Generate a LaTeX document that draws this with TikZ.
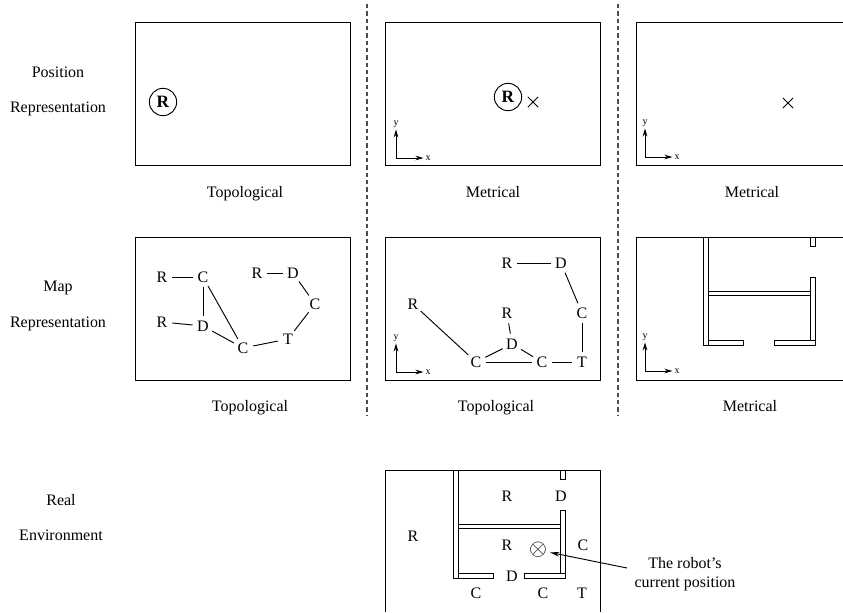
\documentclass[tikz,border=0pt]{standalone}
\usepackage{fontspec}
\setmainfont{Liberation Serif}
\usetikzlibrary{arrows.meta, shapes.misc}

\begin{document}
\begin{tikzpicture}[
  x=0.75pt, y=-0.75pt, line width=0.7pt,
  panel/.style={draw=black},
  sep/.style={dash pattern=on 3.3pt off 2.2pt, line width=0.8pt, black!70},
  txt/.style={font=\fontsize{12}{14.25}\selectfont, inner sep=0pt},
  place/.style={txt, circle, inner sep=1.6pt, minimum size=17pt},
  link/.style={shorten >=-1pt, shorten <=-1pt},
  robot/.style={draw, circle, minimum size=20.5pt, inner sep=0pt, font=\fontsize{13}{14}\selectfont\bfseries},
  goal/.style={draw, cross out, minimum size=7pt, inner sep=0pt},
  axlabel/.style={font=\fontsize{7.5}{8}\selectfont, inner sep=1.2pt},
  axarrow/.style={-{Stealth[length=6pt, width=3.5pt]}, line width=0.6pt},
  wall/.style={draw=black, line width=0.7pt},
  axes/.pic={
    \coordinate (-o) at (0,0);
    \node[axlabel] (-x) at (32,0) {x};
    \node[axlabel] (-y) at (0,-34) {y};
    \draw[axarrow] (-o) -- (-x);
    \draw[axarrow] (-o) -- (-y);
  },
  walls/.pic={
    \draw[wall] (0,0) rectangle (5,108);
    \draw[wall] (5,103) rectangle (40,108);
    \draw[wall] (71,103) rectangle (112,108);
    \draw[wall] (107,40) rectangle (112,103);
    \draw[wall] (107,0) rectangle (112,9);
    \draw[wall] (5,54) rectangle (107,58);
  }
]
  \useasboundingbox (0,0) rectangle (843,612);

  % row labels
  \node[txt] (posa) at (58,72) {Position};
  \node[txt] (posb) at (58,109) {Representation};
  \node[txt] (mapa) at (58,288) {Map};
  \node[txt] (mapb) at (58,324) {Representation};
  \node[txt] (reala) at (61,500) {Real};
  \node[txt] (realb) at (61,535) {Environment};

  % separators
  \draw[sep] (367,4) -- (367,415);
  \draw[sep] (618,4) -- (618,415);

  % position row
  \draw[panel] (135,22) rectangle (350,165);
  \draw[panel] (385,22) rectangle (600,165);
  \draw[panel] (843,22) -- (636,22) -- (636,165) -- (843,165);
  \node[robot] (robota) at (163,102) {R};
  \node[robot] (robotb) at (508,97) {R};
  \node[goal] (goalb) at (533,102) {};
  \node[goal] (goalc) at (788,103) {};
  \pic (axa) at (396,158) {axes};
  \pic (axb) at (645,157) {axes};
  \node[txt] (capa) at (245,194) {Topological};
  \node[txt] (capb) at (493,192) {Metrical};
  \node[txt] (capc) at (752,192) {Metrical};

  % map row, left graph
  \draw[panel] (135,237) rectangle (350,380);
  \node[place] (ra) at (162,277) {R};
  \node[place] (ca) at (203,277) {C};
  \node[place] (da) at (203,326) {D};
  \node[place] (rb) at (162,322) {R};
  \node[place] (cb) at (243,348) {C};
  \node[place] (ta) at (288,339) {T};
  \node[place] (cc) at (315,304) {C};
  \node[place] (db) at (293,273) {D};
  \node[place] (rc) at (257,273) {R};
  \foreach \a/\b in {ra/ca, ca/da, ca/cb, rb/da, da/cb, cb/ta, ta/cc, cc/db, db/rc}
    \draw[link] (\a) -- (\b);

  % map row, middle graph
  \draw[panel] (385,237) rectangle (600,380);
  \node[place] (rd) at (413,304) {R};
  \node[place] (cd) at (476,362) {C};
  \node[place] (dc) at (512,344) {D};
  \node[place] (re) at (507,313) {R};
  \node[place] (ce) at (542,362) {C};
  \node[place] (tb) at (582,362) {T};
  \node[place] (cf) at (582,313) {C};
  \node[place] (dd) at (561,263) {D};
  \node[place] (rf) at (507,263) {R};
  \foreach \a/\b in {rd/cd, cd/dc, cd/ce, dc/ce, dc/re, ce/tb, tb/cf, cf/dd, dd/rf}
    \draw[link] (\a) -- (\b);
  \pic (axc) at (396,372) {axes};

  % map row, right plan
  \draw[panel] (843,237) -- (636,237) -- (636,380) -- (843,380);
  \pic at (703,237) {walls};
  \pic (axd) at (645,371) {axes};
  \node[txt] (capd) at (250,408) {Topological};
  \node[txt] (cape) at (496,408) {Topological};
  \node[txt] (capf) at (750,406) {Metrical};

  % real environment
  \draw[panel] (385,612) -- (385,470) -- (600,470) -- (600,612);
  \pic at (453,470) {walls};
  \node[txt] (envra) at (413,536) {R};
  \node[txt] (envrb) at (507,496) {R};
  \node[txt] (envda) at (561,496) {D};
  \node[txt] (envrc) at (507,545) {R};
  \node[txt] (envca) at (583,545) {C};
  \node[txt] (envdb) at (512,576) {D};
  \node[txt] (envcb) at (476,593) {C};
  \node[txt] (envcc) at (543,593) {C};
  \node[txt] (envta) at (582,593) {T};
  \node[txt, inner sep=2pt] (here) at (538,550) {\fontsize{16}{16}\selectfont$\otimes$};
  \node[txt, align=center] (note) at (685,574) {The robot's\\current position};
  \coordinate (pointer) at (627,568);
  \draw[-{Stealth[length=7pt, width=3.5pt]}] (pointer) -- (here);
\end{tikzpicture}
\end{document}
